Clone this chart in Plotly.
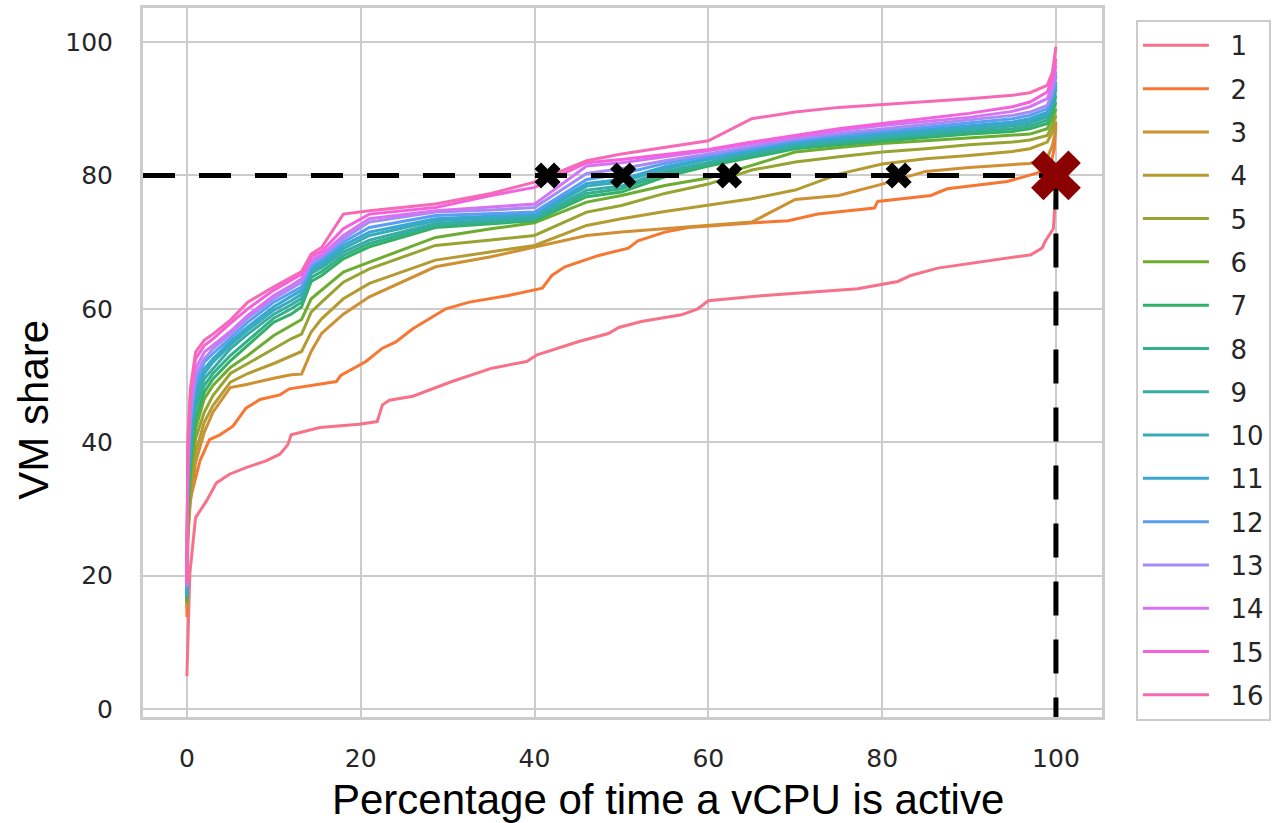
import math
import plotly.graph_objects as go

# ---------------- data ----------------
LABELS = [str(i) for i in range(1, 17)]

X1 = [0, 0.34, 1.0, 2.26, 3.4, 4.9, 6.8, 9.1, 10.7, 11.6, 12.0, 15.3, 19.8, 21.9, 22.5, 23.3, 26.0, 30.5,
      35.1, 39.1, 40.3, 45.1, 48.5, 49.7, 52.3, 56.9, 58.8, 60.0, 66.5, 77.2, 81.8, 83.3, 86.4, 91.7, 97.1,
      98.4, 98.8, 99.7, 100]
Y1 = [4.9, 20.3, 28.7, 31.2, 33.9, 35.2, 36.2, 37.2, 38.2, 39.6, 41.1, 42.2, 42.7, 43.1, 45.6, 46.3, 46.9, 49.1,
      51.1, 52.1, 53.1, 55.1, 56.3, 57.2, 58.1, 59.1, 60.0, 61.2, 62.0, 63.0, 64.1, 65.0, 66.1, 67.1, 68.1,
      69.1, 70.2, 72.0, 78]

X2 = [0, 0.1, 0.34, 1.5, 2.6, 3.8, 5.3, 6.8, 8.4, 10.7, 11.8, 17.2, 17.7, 20.6, 22.5, 24.0, 26.0, 27.9, 29.8,
      32.5, 37.0, 40.9, 42.0, 43.5, 47.4, 50.8, 51.9, 55.0, 57.7, 65.3, 69.2, 72.6, 79.1, 79.5, 85.6, 87.5,
      94.4, 97.4, 99.3, 99.8, 100]
Y2 = [13.8, 25, 31.2, 37.2, 40.4, 41.1, 42.4, 45.1, 46.4, 47.1, 48.0, 49.1, 50.0, 52.1, 54.1, 55.0, 57.0, 58.5,
      60.0, 61.0, 62.0, 63.1, 65.0, 66.3, 68.0, 69.1, 70.2, 71.5, 72.2, 72.9, 73.2, 74.2, 75.1, 76.1, 77.0,
      78.0, 79.1, 80.2, 81, 84, 88]

XG = [0, 0.1, 0.4, 1, 2, 3, 5, 7, 10, 12, 13.2, 14.3, 15.5, 18, 21, 28.6, 35, 40, 46, 50, 55, 60, 65, 70, 75,
      80, 85, 90, 95, 97, 99, 99.6, 100]

Y3 = [15, 26, 31, 37, 41.5, 44.5, 48.2, 48.7, 49.6, 50.1, 50.2, 53.6, 56.3, 59.2, 61.8, 66.3, 67.8, 69.3, 71,
      71.5, 72, 72.4, 73.0, 76.4, 77.0, 78.7, 80.6, 81.2, 81.6, 81.8, 82.6, 84.5, 87]
Y4 = [15.5, 27, 32, 38.5, 43, 45.5, 49, 50.3, 51.8, 53, 53.6, 56.5, 58.5, 61.5, 63.8, 67.3, 68.5, 69.5, 72.5,
      73.5, 74.6, 75.5, 76.5, 77.8, 80.2, 81.7, 82.5, 83, 83.6, 84, 85, 86.5, 88]
Y5 = [16, 28, 33, 40.5, 44.5, 47, 50.3, 51.8, 54.1, 55.5, 56.2, 59.5, 61, 64, 66, 69.5, 70.3, 71, 74.5, 75.5,
      77.3, 78.7, 80.8, 82, 82.8, 83.5, 84, 84.6, 85, 85.3, 86, 87.5, 89]
Y6 = [16, 29, 35, 42, 46.5, 48.5, 51.2, 53, 56, 57.5, 58.4, 61.5, 62.8, 65.5, 67, 70.7, 72, 72.9, 76, 77,
      78.5, 79.6, 81.5, 83.5, 84.2, 84.8, 85.2, 85.6, 86, 86.2, 87, 88.5, 90]
Y7 = [16.5, 30, 37, 43.5, 47.5, 49.5, 52.2, 54.5, 58, 59.2, 60.3, 64.1, 65, 67.5, 69.3, 72.2, 72.7, 73.2, 76.8,
      77.5, 79.8, 81.4, 82.7, 84, 84.6, 85.2, 85.7, 86.2, 86.6, 87, 87.8, 89.5, 91]
Y8 = [16.5, 31, 38, 45, 48.5, 50.3, 53, 55.3, 58.6, 60, 61, 64.7, 65.6, 68, 69.8, 72.5, 73, 73.4, 77.3, 78,
      80.2, 81.7, 83, 84.2, 84.9, 85.5, 86, 86.5, 87, 87.4, 88.3, 90, 92]
Y9 = [17, 32, 39, 46, 49.5, 51, 54, 56.2, 59.2, 60.6, 61.6, 65.3, 66.2, 68.5, 70.3, 72.8, 73.2, 73.6, 77.8,
      78.4, 80.6, 82, 83.3, 84.5, 85.2, 85.8, 86.3, 86.8, 87.4, 87.8, 88.8, 90.5, 93]
Y10 = [17, 33, 41, 47, 50.3, 52, 54.6, 56.8, 59.8, 61.2, 62.2, 65.7, 66.6, 69, 71, 73.2, 73.6, 73.9, 78.4, 79,
       81, 82.4, 83.6, 84.7, 85.4, 86, 86.6, 87.1, 87.7, 88.1, 89.2, 91, 93.5]
Y11 = [17.5, 34, 42, 48, 51, 52.5, 55.1, 57.3, 60.3, 61.8, 62.8, 66, 67, 69.5, 71.5, 73.5, 73.9, 74.2, 78.8,
       79.4, 81.3, 82.6, 83.8, 85, 85.7, 86.3, 86.9, 87.4, 88, 88.5, 89.5, 91.5, 94]
Y12 = [18, 35, 43, 49, 52, 53.3, 55.6, 58, 61, 62.4, 63.3, 66.5, 67.4, 70, 72.2, 74, 74.3, 74.5, 79.4, 80.2,
       81.8, 82.9, 84.1, 85.2, 86, 86.6, 87.2, 87.8, 88.5, 89, 90, 92, 95]
Y13 = [18.5, 36, 44, 50, 52.5, 54, 56.2, 58.6, 61.5, 63, 64, 67, 67.8, 70.5, 73, 74.5, 74.8, 75.2, 80.3, 81,
       82.2, 83.2, 84.4, 85.5, 86.3, 87, 87.7, 88.3, 89, 89.5, 90.5, 92.5, 95.5]
Y14 = [18.5, 37, 46, 51, 53.5, 54.5, 56.6, 59, 62, 63.5, 64.5, 67.3, 68.1, 71, 73.5, 74.7, 75.2, 75.7, 81.4,
       81.9, 82.8, 83.7, 84.8, 85.8, 86.7, 87.5, 88.1, 88.7, 89.6, 90.3, 91.5, 93.5, 96.5]
Y15 = [19, 38, 47, 52.5, 54.5, 55.5, 57.8, 60, 62.8, 64.3, 65.2, 67.8, 68.6, 72, 74.2, 75.2, 77, 78.2, 81.9,
       82.4, 83.2, 83.9, 85, 86, 87, 87.8, 88.6, 89.3, 90.3, 91, 92.5, 94.5, 97.5]
Y16 = [19, 40, 48, 53.5, 55.3, 56.2, 58.3, 61, 63.3, 64.8, 65.6, 68.2, 69.2, 74.2, 74.7, 75.7, 77.3, 79, 82.2,
       83.2, 84.2, 85.2, 88.5, 89.5, 90.2, 90.6, 91.1, 91.5, 92, 92.4, 93.5, 95.5, 99.3]

SERIES_X = [X1, X2] + [XG] * 14
SERIES_Y = [Y1, Y2, Y3, Y4, Y5, Y6, Y7, Y8, Y9, Y10, Y11, Y12, Y13, Y14, Y15, Y16]

REF_SHARE = 80          # horizontal guide
REF_TIME = 100          # vertical guide
CROSS_X = [41.5, 50.2, 62.4, 81.9]
CROSS_Y = [80, 80, 80, 80]
BIG_CROSS_X = [100]
BIG_CROSS_Y = [80]

X_TICKS = [0, 20, 40, 60, 80, 100]
Y_TICKS = [0, 20, 40, 60, 80, 100]

X_RANGE = [-5.05, 105.3]
Y_RANGE = [-1.2, 105.1]

# ---------------- husl palette (seaborn style) ----------------
_M = [[3.2406, -1.5372, -0.4986], [-0.9689, 1.8758, 0.0415], [0.0557, -0.2040, 1.0570]]
_refU, _refV = 0.19784, 0.46834


def _max_chroma(L, H):
    hr = math.radians(H)
    sH, cH = math.sin(hr), math.cos(hr)
    sub1 = (L + 16) ** 3 / 1560896.0
    sub2 = sub1 if sub1 > 0.008856 else L / 903.3
    res = float("inf")
    for m1, m2, m3 in _M:
        top = (0.99915 * m1 + 1.05122 * m2 + 1.14460 * m3) * sub2
        rb = 0.86330 * m3 - 0.17266 * m2
        lb = 0.12949 * m3 - 0.38848 * m1
        bottom = (rb * sH + lb * cH) * sub2
        for t in (0.0, 1.0):
            C = L * (top - 1.05122 * t) / (bottom + 0.17266 * sH * t)
            if 0 < C < res:
                res = C
    return res


def _husl_to_rgb(h, s, l):
    C = _max_chroma(l, h) / 100.0 * s
    hr = math.radians(h)
    U, V = math.cos(hr) * C, math.sin(hr) * C
    t = (l + 16.0) / 116.0
    varY = t ** 3 if t ** 3 > 0.008856 else (116.0 * t - 16.0) / 903.3
    vU = U / (13.0 * l) + _refU
    vV = V / (13.0 * l) + _refV
    Y = varY
    X = 0.0 - (9.0 * Y * vU) / ((vU - 4.0) * vV - vU * vV)
    Z = (9.0 * Y - 15.0 * vV * Y - vV * X) / (3.0 * vV)
    out = []
    for row in _M:
        c = row[0] * X + row[1] * Y + row[2] * Z
        c = 12.92 * c if c <= 0.0031308 else 1.055 * c ** (1 / 2.4) - 0.055
        out.append(min(1, max(0, c)))
    return "rgb(%d,%d,%d)" % tuple(round(v * 255) for v in out)


def husl_palette(n, h=0.01, s=0.9, l=0.65):
    cols = []
    for i in range(n):
        hue = ((i / n + h) % 1) * 359
        cols.append(_husl_to_rgb(hue, s * 99, l * 99))
    return cols


COLORS = husl_palette(16)

# ---------------- figure ----------------
fig = go.Figure()
for i, (lab, xs, ys) in enumerate(zip(LABELS, SERIES_X, SERIES_Y)):
    fig.add_trace(go.Scatter(x=xs, y=ys, mode="lines", name="\u00a0\u00a0" + lab, legendgroup=lab,
                             line=dict(color=COLORS[i], width=3)))

# guides drawn as layout shapes between grid and... (shapes above traces would cover markers),
# so use traces; start the horizontal guide at the left axis limit
fig.add_trace(go.Scatter(x=[X_RANGE[0], REF_TIME], y=[REF_SHARE, REF_SHARE], mode="lines",
                         showlegend=False, line=dict(color="black", width=5, dash="32px,24px")))
fig.add_trace(go.Scatter(x=[REF_TIME, REF_TIME], y=[REF_SHARE, Y_RANGE[0]], mode="lines",
                         showlegend=False, line=dict(color="black", width=5, dash="34px,24px")))
fig.add_trace(go.Scatter(x=CROSS_X, y=CROSS_Y, mode="markers", showlegend=False,
                         marker=dict(symbol="x", size=23, color="black", line=dict(width=0))))
fig.add_trace(go.Scatter(x=BIG_CROSS_X, y=BIG_CROSS_Y, mode="markers", showlegend=False,
                         marker=dict(symbol="x", size=44, color="#8b0000", line=dict(width=0))))

L, R, T, B = 143, 1105, 5, 717
W, H = 1276, 823
pw, ph = R - L, B - T

axis_common = dict(showgrid=True, gridcolor="#cccccc", gridwidth=2, zeroline=False,
                   showline=True, linecolor="#cccccc", linewidth=3, mirror=True,
                   ticks="outside", tickcolor="rgba(0,0,0,0)",
                   tickfont=dict(family="DejaVu Sans", size=25, color="#262626"))

fig.update_layout(
    width=W, height=H,
    margin=dict(l=L, r=W - R, t=T, b=H - B),
    paper_bgcolor="white", plot_bgcolor="white",
    xaxis=dict(range=X_RANGE, tickvals=X_TICKS, ticklen=17, **axis_common),
    yaxis=dict(range=Y_RANGE, tickvals=Y_TICKS, ticklen=22, **axis_common),
    legend=dict(x=(1139 - L) / pw, y=1 - (17 - T) / ph, xanchor="left", yanchor="top",
                bgcolor="white", bordercolor="#cccccc", borderwidth=2,
                font=dict(family="DejaVu Sans", size=26, color="#262626"),
                tracegroupgap=6.5, itemwidth=66, maxheight=800),
    showlegend=True,
    annotations=[
        dict(text="VM share", xref="paper", yref="paper", x=(33 - L) / pw, y=(B - 408) / ph,
             textangle=-90, showarrow=False, xanchor="center", yanchor="middle",
             font=dict(family="Liberation Sans, Arial", size=42, color="black")),
        dict(text="Percentage of time a vCPU is active", xref="paper", yref="paper",
             x=(670 - L) / pw, y=(B - 800) / ph, showarrow=False, xanchor="center", yanchor="middle",
             font=dict(family="Liberation Sans, Arial", size=42, color="black")),
    ],
)

fig.write_html("out.html")
